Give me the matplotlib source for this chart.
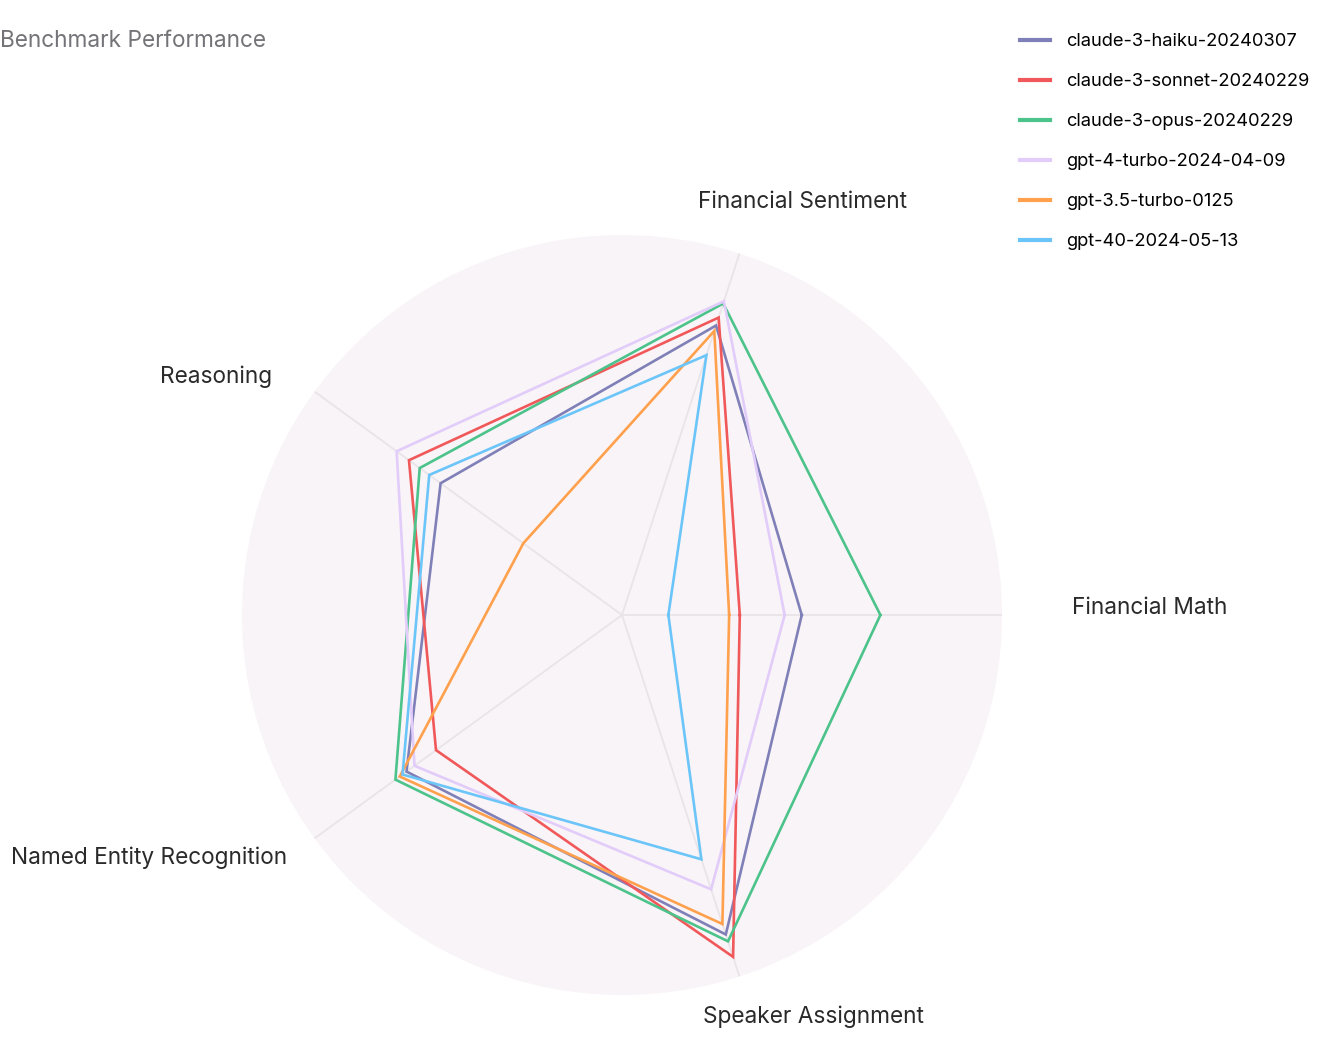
import numpy as np
import matplotlib
matplotlib.use("Agg")
import matplotlib.pyplot as plt
from matplotlib.lines import Line2D

plt.rcParams['font.family'] = ['Inter', 'DejaVu Sans']

categories = ["Financial Math", "Financial Sentiment", "Reasoning",
              "Named Entity Recognition", "Speaker Assignment"]
models = ["claude-3-haiku-20240307", "claude-3-sonnet-20240229", "claude-3-opus-20240229",
          "gpt-4-turbo-2024-04-09", "gpt-3.5-turbo-0125", "gpt-40-2024-05-13"]
haiku = [0.473, 0.801, 0.590, 0.701, 0.884]
sonnet = [0.310, 0.823, 0.693, 0.605, 0.946]
opus = [0.680, 0.862, 0.658, 0.737, 0.903]
gpt4_turbo = [0.428, 0.868, 0.733, 0.675, 0.759]
gpt35_turbo = [0.282, 0.786, 0.321, 0.723, 0.855]
gpt4o = [0.122, 0.719, 0.627, 0.714, 0.676]
series = [haiku, sonnet, opus, gpt4_turbo, gpt35_turbo, gpt4o]
colors = ["#8080B8", "#F0585A", "#4CC38A", "#E2CCFA", "#FFA04D", "#6CC5F9"]

W, H = 1328, 1050
fig = plt.figure(figsize=(W / 100, H / 100), dpi=100)
cx, cy, R = 622, 615, 380
ax = fig.add_axes([(cx - R) / W, (H - cy - R) / H, 2 * R / W, 2 * R / H], projection='polar')

n = len(categories)
angles = np.arange(n) * 2 * np.pi / n
for vals, col, name in zip(series, colors, models):
    th = np.append(angles, angles[0])
    rv = np.append(vals, vals[0])
    ax.plot(th, rv, color=col, lw=1.9, label=name, zorder=3, solid_joinstyle='miter')

ax.set_ylim(0, 1)
ax.set_yticks([])
ax.set_xticks(angles)
ax.set_xticklabels([])
ax.tick_params(axis='x', length=0)
ax.xaxis.grid(True, color='#E9E4E7', lw=1.3)
ax.yaxis.grid(False)
ax.spines['polar'].set_visible(False)
ax.set_facecolor('#F9F4F7')

offsets = [(70, 7, 'left'), (63, 52, 'center'), (-42, 15, 'right'),
           (-27, -19, 'right'), (74, -40, 'center')]
for ang, lab, (dx, dy, ha) in zip(angles, categories, offsets):
    ax.annotate(lab, xy=(ang, 1.0), xytext=(dx * 0.72, dy * 0.72), textcoords='offset points',
                ha=ha, va='center', fontsize=16.3, color='#2a2a2a', annotation_clip=False)

fig.text(0.0, 1 - 41 / H, "Benchmark Performance", ha='left', va='center',
         fontsize=16.3, color='#737378')

handles = [Line2D([], [], color=c, lw=3) for c in colors]
fig.legend(handles, models, loc='upper left', bbox_to_anchor=(1020 / W, 1 - 33 / H),
           frameon=False, fontsize=13.2, handlelength=1.64, handletextpad=0.87,
           labelspacing=1.26, borderaxespad=0, borderpad=0)

fig.savefig("out.png", dpi=100, facecolor='white')
